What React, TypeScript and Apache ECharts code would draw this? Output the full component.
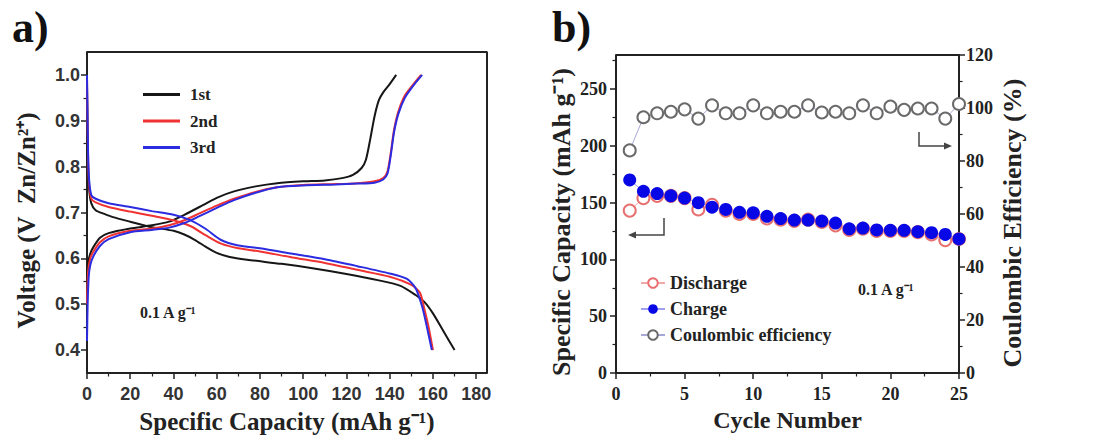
import React, { useEffect, useRef } from "react";
import * as echarts from "echarts";

// ---------- Panel a) : galvanostatic curves ----------
const capacityTicks = [0, 20, 40, 60, 80, 100, 120, 140, 160, 180];
const capacityMinorTicks = [10, 30, 50, 70, 90, 110, 130, 150, 170];
const voltageTicks = [0.4, 0.5, 0.6, 0.7, 0.8, 0.9, 1.0];
const voltageMinorTicks = [0.45, 0.55, 0.65, 0.75, 0.85, 0.95];
const capacityRange = [0, 185];
const voltageRange = [0.35, 1.05];

const charge1st = [
  [0, 0.55], [0.5, 0.59], [1.5, 0.61], [3, 0.625], [6, 0.645], [10, 0.655], [20, 0.665],
  [30, 0.672], [38, 0.68], [45, 0.695], [52, 0.712], [60, 0.732], [68, 0.746], [78, 0.757],
  [88, 0.764], [100, 0.768], [110, 0.77], [118, 0.775], [123, 0.782], [127, 0.797],
  [129, 0.815], [131, 0.86], [133, 0.91], [135, 0.945], [137, 0.962], [140, 0.98], [143, 1.0],
];
const charge2nd = [
  [0, 0.5], [0.5, 0.57], [1.5, 0.6], [3, 0.615], [6, 0.635], [10, 0.648], [20, 0.66],
  [30, 0.665], [38, 0.672], [45, 0.683], [52, 0.698], [60, 0.715], [68, 0.73], [78, 0.745],
  [88, 0.755], [100, 0.76], [115, 0.762], [125, 0.764], [133, 0.768], [137, 0.775],
  [139, 0.79], [140.5, 0.83], [142, 0.88], [144, 0.92], [147, 0.955], [151, 0.98], [154.5, 1.0],
];
const charge3rd = [
  [0, 0.42], [0.3, 0.5], [0.8, 0.56], [1.5, 0.585], [3, 0.605], [6, 0.627], [10, 0.642],
  [20, 0.657], [30, 0.662], [38, 0.667], [45, 0.677], [52, 0.692], [60, 0.71], [68, 0.727],
  [78, 0.743], [88, 0.755], [100, 0.759], [115, 0.761], [125, 0.763], [133, 0.765],
  [137, 0.772], [139, 0.785], [140.5, 0.825], [142, 0.875], [144, 0.915], [147, 0.95],
  [151, 0.977], [155, 1.0],
];
const discharge1st = [
  [0, 0.97], [0.5, 0.8], [1, 0.75], [2, 0.72], [4, 0.705], [8, 0.697], [12, 0.69], [20, 0.68],
  [30, 0.668], [40, 0.66], [45, 0.652], [50, 0.64], [55, 0.625], [60, 0.612], [66, 0.603],
  [74, 0.597], [90, 0.588], [105, 0.578], [120, 0.566], [135, 0.552], [145, 0.54], [152, 0.52],
  [156, 0.505], [160, 0.48], [165, 0.44], [170, 0.4],
];
const discharge2nd = [
  [0, 0.99], [0.5, 0.82], [1, 0.76], [2, 0.73], [4, 0.722], [10, 0.712], [20, 0.702],
  [30, 0.693], [40, 0.683], [48, 0.67], [55, 0.65], [62, 0.632], [70, 0.622], [80, 0.615],
  [95, 0.602], [110, 0.59], [125, 0.575], [140, 0.56], [150, 0.542], [154, 0.525],
  [156, 0.49], [158, 0.45], [160, 0.4],
];
const discharge3rd = [
  [0, 1.0], [0.5, 0.83], [1, 0.77], [2, 0.738], [4, 0.73], [10, 0.72], [20, 0.712],
  [30, 0.703], [40, 0.695], [48, 0.683], [55, 0.664], [62, 0.64], [70, 0.628], [80, 0.622],
  [95, 0.61], [110, 0.598], [125, 0.583], [140, 0.567], [148, 0.555], [152, 0.535],
  [155, 0.495], [157, 0.455], [159.5, 0.4],
];

// ---------- Panel b) : cycling ----------
const cycles = [1, 2, 3, 4, 5, 6, 7, 8, 9, 10, 11, 12, 13, 14, 15, 16, 17, 18, 19, 20, 21, 22, 23, 24, 25];
const dischargeCap = [143, 154, 156, 156, 154, 144, 148, 143, 140, 140, 136, 135, 134, 135, 133, 130, 126, 127, 125, 125, 125, 124, 122, 117, 118];
const chargeCap = [170, 160, 158, 156, 154, 150, 146, 144, 141.5, 141, 138, 136, 134.7, 134.7, 133.8, 132, 127, 127.6, 126, 125.6, 125.6, 124.4, 123.5, 122, 118];
const coulombicEff = [84, 96.5, 98, 98.6, 99.5, 96, 101, 98, 98, 101, 98, 98.6, 98.6, 101, 98.3, 98.6, 98, 101, 98, 100.5, 99.3, 99.8, 99.8, 96, 101.5];
const capTicksB = [0, 50, 100, 150, 200, 250];
const capMinorTicksB = [25, 75, 125, 175, 225, 275];
const cycleRange = [0, 25];
const capRangeB = [0, 280];

const SERIF = "Liberation Serif";
const SANS = "Liberation Sans";
const INK = "#222";

const pair = (xs: number[], ys: number[]) => xs.map((x, i) => [x, ys[i]]);

export default function App() {
  const ref = useRef<HTMLDivElement>(null);
  useEffect(() => {
    if (!ref.current) return;
    const chart = echarts.init(ref.current, null, { renderer: "svg" });

    const nameStyle = { fontFamily: SERIF, fontWeight: "bold", fontSize: 25, color: INK };
    const serifLabel = { fontFamily: SERIF, fontWeight: "bold", fontSize: 18, color: INK };
    const sansLabel = { fontFamily: SANS, fontWeight: "bold", fontSize: 18, color: "#333" };
    const axisLine = { show: true, onZero: false, lineStyle: { color: INK, width: 2 } };
    const noLine = { show: false, onZero: false };
    const majorTick = { show: true, inside: false, length: 6, lineStyle: { color: INK, width: 1.5 } };
    const minorTickStyle = { show: true, length: 3.5, lineStyle: { color: INK, width: 1.2 } };
    const hidden = { axisLine: noLine, axisTick: { show: false }, axisLabel: { show: false }, splitLine: { show: false } };

    const curve = (name: string, data: number[][], color: string) => ({
      type: "line",
      name,
      xAxisIndex: 0,
      yAxisIndex: 0,
      data,
      symbol: "none",
      smooth: 0.25,
      lineStyle: { color, width: 2 },
      itemStyle: { color },
    });

    // frame (top + right edges) drawn as an unclipped line series along the axis extents
    const frameSeries = (xi: number, yi: number, xr: number[], yr: number[], withRight: boolean) => ({
      type: "line",
      name: "frame",
      xAxisIndex: xi,
      yAxisIndex: yi,
      data: withRight
        ? [[xr[0], yr[1]], [xr[1], yr[1]], [xr[1], yr[0]]]
        : [[xr[0], yr[1]], [xr[1], yr[1]]],
      symbol: "none",
      clip: false,
      silent: true,
      z: 10,
      lineStyle: { color: INK, width: 2 },
      itemStyle: { color: INK },
      tooltip: { show: false },
    });

    const A = { left: 87, top: 52, width: 400, height: 321 };
    const B = { left: 616, top: 55, width: 343, height: 318 };
    const gridA = { ...A, outerBoundsMode: "none" };
    const gridB = { ...B, outerBoundsMode: "none" };

    const option: any = {
      animation: false,
      backgroundColor: "#fff",
      grid: [gridA, { ...gridA }, gridB, { ...gridB }],
      xAxis: [
        {
          gridIndex: 0, type: "value", position: "bottom", min: capacityRange[0], max: capacityRange[1],
          axisLine, axisTick: { ...majorTick, customValues: capacityTicks },
          axisLabel: { ...sansLabel, margin: 12, customValues: capacityTicks },
          splitLine: { show: false },
          name: "Specific Capacity (mAh g⁻¹)", nameLocation: "middle", nameGap: 36, nameTextStyle: nameStyle,
        },
        {
          gridIndex: 1, type: "value", position: "bottom", min: capacityRange[0], max: capacityRange[1],
          axisLine: noLine, axisTick: { ...minorTickStyle, customValues: capacityMinorTicks },
          axisLabel: { show: false }, splitLine: { show: false },
        },
        {
          gridIndex: 2, type: "value", position: "bottom", min: cycleRange[0], max: cycleRange[1], interval: 5,
          axisLine, axisTick: majorTick,
          minorTick: { ...minorTickStyle, splitNumber: 2 },
          axisLabel: { ...serifLabel, margin: 12 },
          splitLine: { show: false }, minorSplitLine: { show: false },
          name: "Cycle Number", nameLocation: "middle", nameGap: 35,
          nameTextStyle: { ...nameStyle, fontSize: 24 },
        },
        { gridIndex: 3, type: "value", position: "bottom", min: cycleRange[0], max: cycleRange[1], ...hidden },
      ],
      yAxis: [
        {
          gridIndex: 0, type: "value", position: "left", min: voltageRange[0], max: voltageRange[1],
          axisLine, axisTick: { ...majorTick, customValues: voltageTicks },
          axisLabel: { ...sansLabel, margin: 7, customValues: voltageTicks, formatter: (v: number) => v.toFixed(1) },
          splitLine: { show: false },
          name: "Voltage (V  Zn/Zn²⁺)", nameLocation: "middle", nameGap: 48,
          nameTextStyle: { ...nameStyle, padding: [0, 16, 0, 0] },
        },
        {
          gridIndex: 1, type: "value", position: "left", min: voltageRange[0], max: voltageRange[1],
          axisLine: noLine, axisTick: { ...minorTickStyle, customValues: voltageMinorTicks },
          axisLabel: { show: false }, splitLine: { show: false },
        },
        {
          gridIndex: 2, type: "value", position: "left", min: capRangeB[0], max: capRangeB[1],
          axisLine, axisTick: { ...majorTick, customValues: capTicksB },
          axisLabel: { ...serifLabel, margin: 9, customValues: capTicksB },
          splitLine: { show: false },
          name: "Specific Capacity (mAh g⁻¹)", nameLocation: "middle", nameGap: 42,
          nameTextStyle: { ...nameStyle, fontSize: 26, padding: [0, 16, 0, 0] },
        },
        {
          gridIndex: 2, type: "value", position: "right", min: 0, max: 120, interval: 20,
          axisLine, axisTick: majorTick,
          minorTick: { ...minorTickStyle, splitNumber: 2 },
          axisLabel: { ...serifLabel, margin: 7 },
          splitLine: { show: false }, minorSplitLine: { show: false },
          name: "Coulombic Efficiency (%)", nameLocation: "middle", nameGap: 40,
          nameTextStyle: { ...nameStyle, fontSize: 26, padding: [0, 18, 0, 0] },
        },
        {
          gridIndex: 3, type: "value", position: "left", min: capRangeB[0], max: capRangeB[1],
          axisLine: noLine, axisTick: { ...minorTickStyle, customValues: capMinorTicksB },
          axisLabel: { show: false }, splitLine: { show: false },
        },
      ],
      legend: [
        {
          data: ["1st", "2nd", "3rd"],
          orient: "vertical", left: 143, top: 86, padding: 0,
          icon: "rect", itemWidth: 37, itemHeight: 3, itemGap: 9.5,
          textStyle: { fontFamily: SERIF, fontWeight: "bold", fontSize: 17, color: INK, padding: [0, 0, 0, 5] },
          selectedMode: false,
        },
        {
          data: ["Discharge", "Charge", "Coulombic efficiency"],
          orient: "vertical", left: 640, top: 274, padding: 0,
          itemWidth: 24, itemHeight: 12, itemGap: 8,
          textStyle: { fontFamily: SERIF, fontWeight: "bold", fontSize: 18, color: INK },
          selectedMode: false,
        },
      ],
      series: [
        frameSeries(0, 0, capacityRange, voltageRange, true),
        frameSeries(2, 2, cycleRange, capRangeB, false),
        curve("1st", charge1st, "#161616"),
        curve("1st", discharge1st, "#161616"),
        curve("2nd", charge2nd, "#f03232"),
        curve("2nd", discharge2nd, "#f03232"),
        curve("3rd", charge3rd, "#2b2be0"),
        curve("3rd", discharge3rd, "#2b2be0"),
        {
          type: "line", name: "Discharge", xAxisIndex: 2, yAxisIndex: 2,
          data: pair(cycles, dischargeCap),
          symbol: "emptyCircle", symbolSize: 12,
          lineStyle: { color: "#f2a8a8", width: 1 },
          itemStyle: { color: "#e87070", borderWidth: 1.2 },
        },
        {
          type: "line", name: "Charge", xAxisIndex: 2, yAxisIndex: 2,
          data: pair(cycles, chargeCap),
          symbol: "circle", symbolSize: 13,
          lineStyle: { color: "#9fa0f0", width: 1 },
          itemStyle: { color: "#0808e6" },
        },
        {
          type: "line", name: "Coulombic efficiency", xAxisIndex: 2, yAxisIndex: 3,
          data: pair(cycles, coulombicEff),
          symbol: "emptyCircle", symbolSize: 12,
          lineStyle: { color: "#a8a8d8", width: 1 },
          itemStyle: { color: "#6a6a6a", borderWidth: 1.2 },
        },
      ],
      graphic: [
        { type: "text", left: 12, top: 5, style: { text: "a)", fontFamily: SERIF, fontWeight: "bold", fontSize: 44, fill: "#111" } },
        { type: "text", left: 552, top: 5, style: { text: "b)", fontFamily: SERIF, fontWeight: "bold", fontSize: 44, fill: "#111" } },
        { type: "text", left: 140, top: 304, style: { text: "0.1 A g⁻¹", fontFamily: SERIF, fontWeight: "bold", fontSize: 16, fill: INK } },
        { type: "text", left: 858, top: 281, style: { text: "0.1 A g⁻¹", fontFamily: SERIF, fontWeight: "bold", fontSize: 16, fill: INK } },
        { type: "polyline", shape: { points: [[664, 218], [664, 235], [634, 235]] }, style: { stroke: "#444", lineWidth: 1.5, fill: "none" } },
        { type: "polygon", shape: { points: [[628, 235], [636, 231.5], [636, 238.5]] }, style: { fill: "#444" } },
        { type: "polyline", shape: { points: [[919, 132], [919, 146], [945, 146]] }, style: { stroke: "#444", lineWidth: 1.5, fill: "none" } },
        { type: "polygon", shape: { points: [[952, 146], [944, 142.5], [944, 149.5]] }, style: { fill: "#444" } },
      ],
    };

    chart.setOption(option);
    return () => chart.dispose();
  }, []);

  return (
    <div
      ref={ref}
      style={{ position: "absolute", left: 0, top: 0, width: 1103, height: 441, background: "#fff" }}
    />
  );
}
